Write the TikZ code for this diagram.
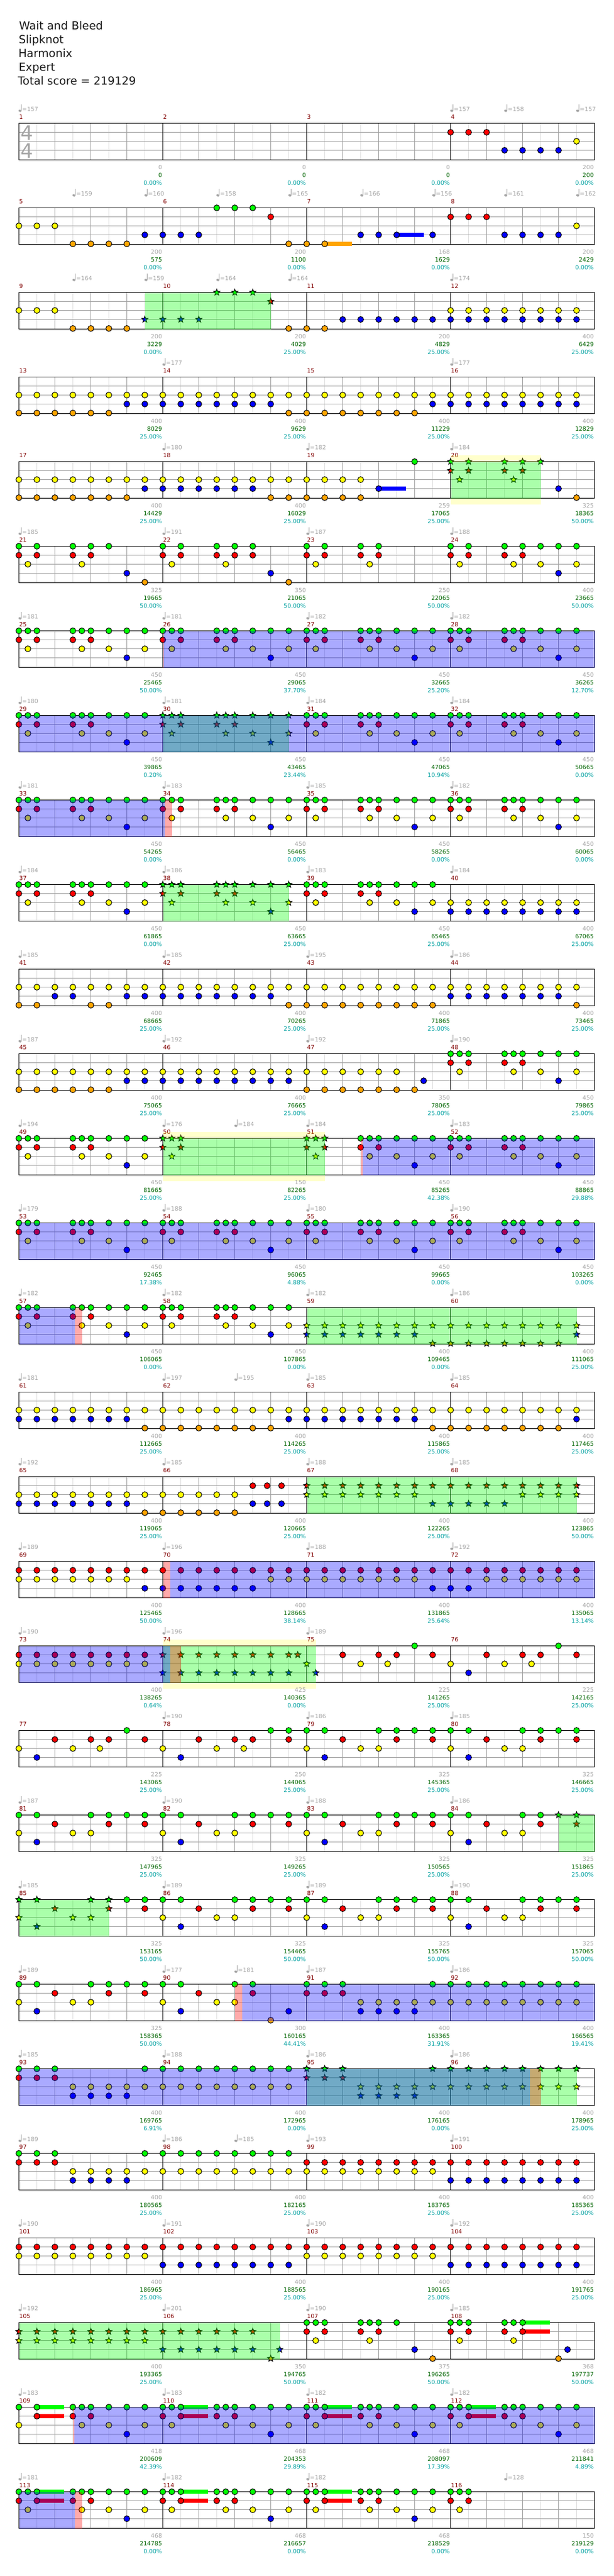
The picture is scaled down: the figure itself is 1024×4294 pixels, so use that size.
\documentclass[tikz,border=0pt]{standalone}
\usepackage{fontspec}
\setmainfont{DejaVu Sans}
\definecolor{nG}{RGB}{0,255,0}
\definecolor{nR}{RGB}{255,0,0}
\definecolor{nY}{RGB}{255,255,0}
\definecolor{nB}{RGB}{0,0,255}
\definecolor{nO}{RGB}{255,165,0}
\definecolor{laneC}{RGB}{160,160,160}
\definecolor{halfC}{RGB}{222,222,222}
\definecolor{txtGray}{RGB}{165,165,165}
\definecolor{txtGreen}{RGB}{0,100,0}
\definecolor{txtTeal}{RGB}{0,160,160}
\definecolor{txtRed}{RGB}{128,0,0}
\tikzset{
  note/.style={draw=black,line width=0.75pt},
  lbl/.style={inner sep=0pt,font=\fontsize{7.3}{9}\selectfont},
  titletxt/.style={inner sep=0pt,anchor=base west,font=\fontsize{13.9}{16}\selectfont,text=black!90},
  sigtxt/.style={inner sep=0pt,anchor=base west,font=\fontsize{24.7}{28}\selectfont,text=txtGray},
}
\def\off{0}
\newcommand\px[1]{(31.5+15*(#1))}
\newcommand\circs[3]{\foreach \p in {#3}{\fill[#2] ({31.5+15*(\p+\off)},{\rowtop+#1}) circle (4.9);\draw[note] ({31.5+15*(\p+\off)},{\rowtop+#1}) circle (4.9);}}
\newcommand\stars[3]{\foreach \p in {#3}{\draw[note,fill=#2,shift={({31.5+15*(\p+\off)},{\rowtop+#1})}] (0,-5.5)--(1.41,-1.94)--(5.23,-1.7)--(2.28,0.74)--(3.23,4.45)--(0,2.4)--(-3.23,4.45)--(-2.28,0.74)--(-5.23,-1.7)--(-1.41,-1.94)--cycle;}}
\newcommand\cG[1]{\circs{0}{nG}{#1}}
\newcommand\cR[1]{\circs{15}{nR}{#1}}
\newcommand\cY[1]{\circs{30}{nY}{#1}}
\newcommand\cB[1]{\circs{45}{nB}{#1}}
\newcommand\cO[1]{\circs{60}{nO}{#1}}
\newcommand\sG[1]{\stars{0}{nG}{#1}}
\newcommand\sR[1]{\stars{15}{nR}{#1}}
\newcommand\sY[1]{\stars{30}{nY}{#1}}
\newcommand\sB[1]{\stars{45}{nB}{#1}}
\newcommand\sO[1]{\stars{60}{nO}{#1}}
\newcommand\RiffC[1]{\def\off{#1}\cG{0,1,2,6,7,8,10,12,14}\cR{0,2,6,8}\cY{1,7,10,14}\cB{12}\def\off{0}}
\newcommand\RiffS[1]{\def\off{#1}\sG{0,1,2,6,7,8,10,12,14}\sR{0,2,6,8}\sY{1,7,10,14}\sB{12}\def\off{0}}
\newcommand\hold[4]{\fill[#2] ({31.5+15*(#3)},{\rowtop+#1-3.5}) rectangle ({31.5+15*(#4)},{\rowtop+#1+3.5});}
\newcommand\Ov[3]{\fill[#1,opacity=0.3333] ({31.5+15*(#2)},\rowtop) rectangle ({31.5+15*(#3)},{\rowtop+61});}
\newcommand\Band[2]{\fill[nY,opacity=0.2] ({31.5+15*(#1)},{\rowtop-10.5}) rectangle ({31.5+15*(#2)},\rowtop);\fill[nY,opacity=0.2] ({31.5+15*(#1)},{\rowtop+61}) rectangle ({31.5+15*(#2)},{\rowtop+71.5});}
\newcommand\Row[1]{%
  \pgfmathsetmacro\rowtop{205.5+141*(#1-1)}%
  \foreach \p in {2,6,...,62}{\draw[halfC,line width=0.75pt] ({31.5+15*\p},\rowtop) -- ({31.5+15*\p},{\rowtop+61});}%
  \foreach \p in {4,8,...,60}{\draw[laneC,line width=0.75pt] ({31.5+15*\p},\rowtop) -- ({31.5+15*\p},{\rowtop+61});}%
  \foreach \l in {15,30,45}{\draw[laneC,line width=0.75pt] (31.5,{\rowtop+\l}) -- (991.5,{\rowtop+\l});}%
  \foreach \p in {16,32,48}{\draw[black,line width=0.75pt] ({31.5+15*\p},\rowtop) -- ({31.5+15*\p},{\rowtop+61});}%
  \draw[black,line width=0.85pt] (31.5,\rowtop) rectangle (991.5,{\rowtop+61});%
  \foreach \k in {0,1,2,3}{\pgfmathtruncatemacro\mnum{4*(#1-1)+\k+1}%
    \node[lbl,anchor=base west,text=txtRed] at ({31.8+240*\k},{\rowtop-7.5}) {\mnum};}%
}
\newcommand\Labs[1]{\foreach \lk/\la/\lb/\lc in {#1}{%
  \node[lbl,anchor=base east,text=txtGray] at ({30.5+240*\lk},{\rowtop+76.5}) {\la};%
  \node[lbl,anchor=base east,text=txtGreen] at ({30.5+240*\lk},{\rowtop+89.5}) {\lb};%
  \node[lbl,anchor=base east,text=txtTeal] at ({30.5+240*\lk},{\rowtop+102.5}) {\lc\%};}}
\newcommand\Tp[1]{\foreach \tpos/\tval in {#1}{%
  \fill[txtGray,rotate around={-20:({33.3+15*\tpos},{\rowtop-20.8})}] ({33.3+15*\tpos},{\rowtop-20.8}) ellipse (2.5 and 1.9);%
  \draw[txtGray,line width=0.75pt] ({35+15*\tpos},{\rowtop-31.5}) -- ({35+15*\tpos},{\rowtop-21});%
  \node[lbl,anchor=base west,text=txtGray] at ({36.7+15*\tpos},{\rowtop-20.5}) {=\tval};}}
\begin{document}
\begin{tikzpicture}[x=0.75pt,y=-0.75pt]
\useasboundingbox (0,0) rectangle (1024,4294);
\node[titletxt] at (31.5,49) {Wait and Bleed};
\node[titletxt] at (31,72) {Slipknot};
\node[titletxt] at (30.5,95) {Harmonix};
\node[titletxt] at (31,118) {Expert};
\node[titletxt] at (29.5,141) {Total score = 219129};
% row 1
\Row{1}
\node[sigtxt] at (34.5,233) {4};
\node[sigtxt] at (34.5,263) {4};
\cR{48,50,52}\cY{62}\cB{54,56,58,60}
\Labs{1/0/0/0.00,2/0/0/0.00,3/0/0/0.00,4/200/200/0.00}
\Tp{0/157,48/157,54/158,62/157}
% row 2
\Row{2}
\hold{60}{nO}{34}{37}\hold{45}{nB}{42}{45}
\cG{22,24,26}\cR{28,48,50,52}\cY{0,2,4,62}\cB{14,16,18,20,38,40,42,46,54,56,58,60}\cO{6,8,10,12,30,32,34}
\Labs{1/200/575/0.00,2/200/1100/0.00,3/168/1629/0.00,4/200/2429/0.00}
\Tp{6/159,14/160,22/158,30/165,38/166,46/156,54/161,62/162}
% row 3
\Row{3}
\cY{0,2,4,48,50,...,62}\cB{36,38,...,62}\cO{6,8,10,12,30,32,34}
\sG{22,24,26}\sR{28}\sB{14,16,18,20}
\Ov{nG}{14}{28}
\Labs{1/200/3229/0.00,2/200/4029/25.00,3/200/4829/25.00,4/400/6429/25.00}
\Tp{6/164,14/159,22/164,30/164,48/174}
% row 4
\Row{4}
\cY{0,2,...,62}\cB{12,14,...,28,46,48,...,62}\cO{0,2,...,10,30,32,...,44}
\Labs{1/400/8029/25.00,2/400/9629/25.00,3/400/11229/25.00,4/400/12829/25.00}
\Tp{16/177,48/177}
% row 5
\Row{5}
\hold{45}{nB}{40}{43}
\cG{44}\cY{0,2,...,38}\cB{14,16,...,26,40,60}\cO{0,2,...,12,28,30,...,38,62}
\sG{48,50,54,56,58}\sR{48,50,54,56}\sY{49,55}
\Band{48}{58}\Ov{nG}{48}{58}
\Labs{1/400/14429/25.00,2/400/16029/25.00,3/259/17065/25.00,4/325/18365/50.00}
\Tp{16/180,32/182,48/184}
% row 6
\Row{6}
\cG{0,2,6,8,10,16,18,22,24,26,32,34,38,40,48,50,54,56,58,60,62}
\cR{0,2,6,8,16,18,22,24,26,32,34,38,40,48,50,54,56}
\cY{1,7,17,23,33,39,49,55,58,62}\cB{12,28,60}\cO{14,30}
\Labs{1/325/19665/50.00,2/350/21065/50.00,3/250/22065/50.00,4/400/23665/50.00}
\Tp{0/185,16/191,32/187,48/188}
% row 7
\Row{7}
\RiffC{0}\RiffC{16}\RiffC{32}\RiffC{48}
\Ov{nR}{16}{16.1}\Ov{nB}{16.1}{64}
\Labs{1/450/25465/50.00,2/450/29065/37.70,3/450/32665/25.20,4/450/36265/12.70}
\Tp{0/181,16/181,32/182,48/182}
% row 8
\Row{8}
\RiffC{0}\RiffS{16}\RiffC{32}\RiffC{48}
\Ov{nG}{16}{30}\Ov{nB}{0}{64}
\Labs{1/450/39865/0.20,2/450/43465/23.44,3/450/47065/10.94,4/450/50665/0.00}
\Tp{0/180,16/181,32/184,48/184}
% row 9
\Row{9}
\RiffC{0}\RiffC{16}\RiffC{32}\RiffC{48}
\Ov{nB}{0}{16.2}\Ov{nR}{16.2}{17}
\Labs{1/450/54265/0.00,2/450/56465/0.00,3/450/58265/0.00,4/450/60065/0.00}
\Tp{0/181,16/183,32/185,48/182}
% row 10
\Row{10}
\RiffC{0}\RiffS{16}\RiffC{32}
\cY{48,50,...,62}\cB{48,50,...,62}
\Ov{nG}{16}{30}
\Labs{1/450/61865/0.00,2/450/63665/25.00,3/450/65465/25.00,4/400/67065/25.00}
\Tp{0/184,16/186,32/183,48/184}
% row 11
\Row{11}
\cY{0,2,...,62}\cB{4,6,12,14,...,28,48,50,...,60}\cO{0,2,8,10,30,32,...,46,62}
\Labs{1/400/68665/25.00,2/400/70265/25.00,3/400/71865/25.00,4/400/73465/25.00}
\Tp{0/185,16/185,32/195,48/186}
% row 12
\Row{12}
\cG{48,49,50,54,55,56,58,60,62}\cR{48,50,54,56}
\cY{0,2,...,42,49,55,58,62}\cB{12,14,...,30,45,60}\cO{0,2,...,10,32,34,...,44}
\Labs{1/400/75065/25.00,2/400/76665/25.00,3/350/78065/25.00,4/450/79865/25.00}
\Tp{0/187,16/192,32/192,48/190}
% row 13
\Row{13}
\RiffC{0}
\sG{16,17,18,32,33,34}\sR{16,18,32,34}\sY{17,33}
\cG{38,39,40,42,44,46,48,49,50,54,55,56,58,60,62}\cR{38,40,48,50,54,56}\cY{39,42,46,49,55,58,62}\cB{44,60}
\Band{16}{34}\Ov{nG}{16}{34}\Ov{nR}{38}{38.2}\Ov{nB}{38.2}{64}
\Labs{1/450/81665/25.00,2/150/82265/25.00,3/450/85265/42.38,4/450/88865/29.88}
\Tp{0/194,16/176,24/184,32/184,48/183}
% row 14
\Row{14}
\RiffC{0}\RiffC{16}\RiffC{32}\RiffC{48}
\Ov{nB}{0}{64}
\Labs{1/450/92465/17.38,2/450/96065/4.88,3/450/99665/0.00,4/450/103265/0.00}
\Tp{0/179,16/188,32/180,48/190}
% row 15
\Row{15}
\RiffC{0}\RiffC{16}
\sY{32,34,...,62}\sB{32,34,...,44,62}\sO{46,48,...,60}
\Ov{nB}{0}{6.2}\Ov{nR}{6.2}{7}\Ov{nG}{32}{62}
\Labs{1/450/106065/0.00,2/450/107865/0.00,3/400/109465/0.00,4/400/111065/25.00}
\Tp{0/182,16/182,32/182,48/186}
% row 16
\Row{16}
\cY{0,2,...,62}\cB{0,2,...,12,30,32,...,44,62}\cO{14,16,...,28,46,48,...,60}
\Labs{1/400/112665/25.00,2/400/114265/25.00,3/400/115865/25.00,4/400/117465/25.00}
\Tp{0/181,16/197,24/195,32/185,48/185}
% row 17
\Row{17}
\cR{26,27.6,29.2}\cY{0,2,...,24}\cB{0,2,...,12,26,27.6,29.2}\cO{14,16,...,24}
\sR{32,34,...,62}\sY{32,34,...,44,56,58,60,62}\sB{46,48,...,54}
\Ov{nG}{32}{62}
\Labs{1/400/119065/25.00,2/400/120665/25.00,3/400/122265/25.00,4/400/123865/50.00}
\Tp{0/192,16/185,32/188,48/185}
% row 18
\Row{18}
\cR{0,2,...,62}\cY{0,2,...,12,28,30,...,44,52,54,...,62}\cB{14,16,...,26,46,48,50}
\Ov{nR}{16}{16.8}\Ov{nB}{16.8}{64}
\Labs{1/400/125465/50.00,2/400/128665/38.14,3/400/131865/25.64,4/400/135065/13.14}
\Tp{0/189,16/196,32/188,48/192}
% row 19
\Row{19}
\cG{44,60}\cR{0,2,...,14,36,40,42,46,52,56,58,62}\cY{0,2,...,14,38,41,48,54,57}\cB{50}
\sR{16,18,...,30,31}\sY{32}\sB{16,18,...,30,33}
\Band{16}{33}\Ov{nG}{16}{33}\Ov{nB}{0}{16.8}\Ov{nR}{16.8}{18}
\Labs{1/400/138265/0.64,2/425/140365/0.00,3/225/141265/25.00,4/225/142165/25.00}
\Tp{0/190,16/196,32/189}
% row 20
\Row{20}
\cG{12,28,30,32,34,40,42,44,46,48,50,56,58,60,62}
\cR{4,8,10,14,20,24,26,30,36,42,46,52,58,62}
\cY{0,6,9,16,22,25,32,38,40,48,54,56}\cB{2,18,34,50}
\Labs{1/225/143065/25.00,2/250/144065/25.00,3/325/145365/25.00,4/325/146665/25.00}
\Tp{16/190,32/186,48/185}
% row 21
\Row{21}
\cG{0,2,8,10,12,14,16,18,24,26,28,30,32,34,40,42,44,46,48,50,56,58}
\cR{4,10,14,20,26,30,36,42,46,52,58}
\cY{0,6,8,16,22,24,32,38,40,48,54,56}\cB{2,18,34,50}
\sG{60,62}\sR{62}
\Ov{nG}{60}{64}
\Labs{1/325/147965/25.00,2/325/149265/25.00,3/325/150565/25.00,4/325/151865/25.00}
\Tp{0/187,16/190,32/188,48/186}
% row 22
\Row{22}
\sG{0,2,8,10}\sR{4,10}\sY{0,6,8}\sB{2}
\cG{12,14,16,18,24,26,28,30,32,34,40,42,44,46,48,50,56,58,60,62}
\cR{14,20,26,30,36,42,46,52,58,62}\cY{16,22,24,32,38,40,48,54,56}\cB{18,34,50}
\Ov{nG}{0}{10}
\Labs{1/325/153165/50.00,2/325/154465/50.00,3/325/155765/50.00,4/325/157065/50.00}
\Tp{0/185,16/189,32/189,48/190}
% row 23
\Row{23}
\cG{0,2,8,10,12,14,16,18,24,26,32,34,36,46,48,...,62}
\cR{4,10,14,20,26,32,34,36}\cY{0,6,8,16,22,24,38,40,...,62}\cB{2,18,30,38,40,42,44}\cO{28}
\Ov{nR}{24}{24.8}\Ov{nB}{24.8}{64}
\Labs{1/325/158365/50.00,2/300/160165/44.41,3/400/163365/31.91,4/400/166565/19.41}
\Tp{0/189,16/177,24/181,32/187,48/186}
% row 24
\Row{24}
\cG{0,2,4,14,16,...,30}\cR{0,2,4}\cY{6,8,...,30}\cB{6,8,10,12}
\sG{32,34,36,46,48,...,62}\sR{32,34,36}\sY{38,40,...,62}\sB{38,40,42,44}
\Ov{nG}{32}{62}\Ov{nB}{0}{56.8}\Ov{nR}{56.8}{58}
\Labs{1/400/169765/6.91,2/400/172965/0.00,3/400/176165/0.00,4/400/178965/25.00}
\Tp{0/185,16/188,32/186,48/186}
% row 25
\Row{25}
\cG{0,2,4,14,16,...,30}\cR{0,2,4,32,34,...,62}\cY{6,8,...,46}\cB{6,8,10,12,48,50,...,62}
\Labs{1/400/180565/25.00,2/400/182165/25.00,3/400/183765/25.00,4/400/185365/25.00}
\Tp{0/189,16/186,24/185,32/193,48/191}
% row 26
\Row{26}
\cR{0,2,...,62}\cY{0,2,...,14,32,34,...,46}\cB{16,18,...,30,48,50,...,62}
\Labs{1/400/186965/25.00,2/400/188565/25.00,3/400/190165/25.00,4/400/191765/25.00}
\Tp{0/190,16/191,32/190,48/192}
% row 27
\Row{27}
\hold{0}{nG}{56}{59}\hold{15}{nR}{56}{59}
\sR{0,2,...,26}\sY{0,2,...,14}\sB{16,18,...,26,29}\sO{28}
\cG{32,33,34,38,39,40,42,48,49,50,54,55,56}\cR{32,34,38,40,48,50,54,56}\cY{33,39,49,55}\cB{44,61}\cO{46,60}
\Ov{nG}{0}{29}
\Labs{1/400/193365/25.00,2/350/194765/50.00,3/375/196265/50.00,4/368/197737/50.00}
\Tp{0/192,16/201,32/190,48/185}
% row 28
\Row{28}
\hold{0}{nG}{2}{5}\hold{15}{nR}{2}{5}\hold{0}{nG}{18}{21}\hold{15}{nR}{18}{21}\hold{0}{nG}{34}{37}\hold{15}{nR}{34}{37}\hold{0}{nG}{50}{53}\hold{15}{nR}{50}{53}
\cG{0,2,6,7,8,10,12,14,16,17,18,22,23,24,26,28,30,32,33,34,38,39,40,42,44,46,48,49,50,54,55,56,58,60,62}
\cR{2,6,8,16,18,22,24,32,34,38,40,48,50,54,56}
\cY{0,7,10,14,17,23,26,30,33,39,42,46,49,55,58,62}\cB{12,28,44,60}
\Ov{nR}{6}{6.15}\Ov{nB}{6.15}{64}
\Labs{1/418/200609/42.39,2/468/204353/29.89,3/468/208097/17.39,4/468/211841/4.89}
\Tp{0/183,16/183,32/182,48/182}
% row 29
\Row{29}
\hold{0}{nG}{2}{5}\hold{15}{nR}{2}{5}\hold{0}{nG}{18}{21}\hold{15}{nR}{18}{21}\hold{0}{nG}{34}{37}\hold{15}{nR}{34}{37}
\cG{0,1,2,6,7,8,10,12,14,16,17,18,22,23,24,26,28,30,32,33,34,38,39,40,42,44,46,48,49,50}
\cR{0,2,6,8,16,18,22,24,32,34,38,40,48,50}
\cY{1,7,10,14,17,23,26,30,33,39,42,46,49}\cB{12,28,44}
\Ov{nB}{0}{6.2}\Ov{nR}{6.2}{7}
\Labs{1/468/214785/0.00,2/468/216657/0.00,3/468/218529/0.00,4/150/219129/0.00}
\Tp{0/181,16/182,32/182,54/128}
\end{tikzpicture}
\end{document}
